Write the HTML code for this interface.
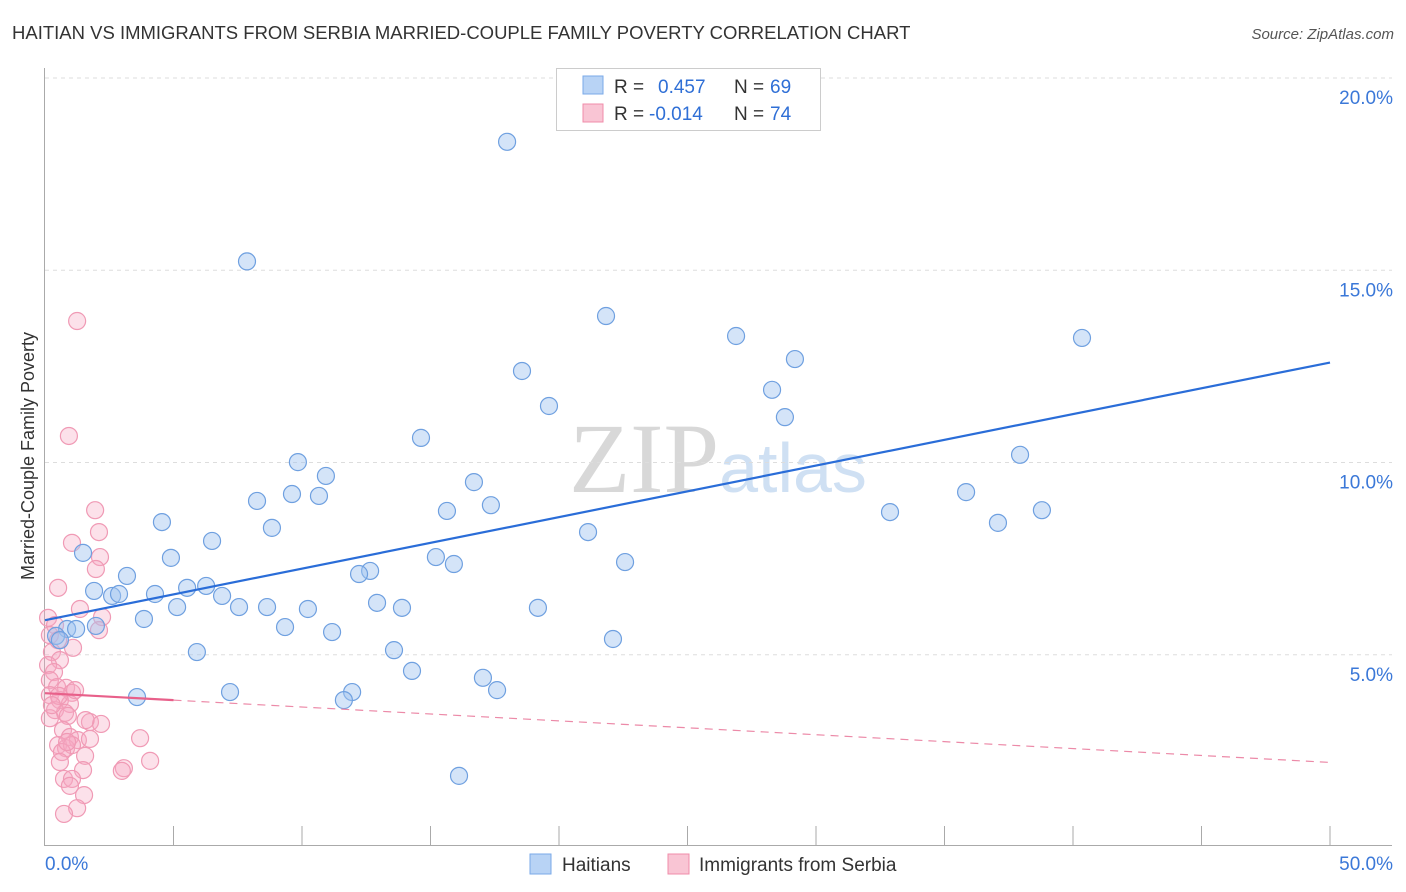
<!DOCTYPE html>
<html><head><meta charset="utf-8"><style>
body{margin:0;background:#fff;font-family:"Liberation Sans",sans-serif;}
svg{display:block}
</style></head><body>
<svg width="1406" height="892" xmlns="http://www.w3.org/2000/svg">
<text x="12" y="39" font-size="18.5" fill="#333">HAITIAN VS IMMIGRANTS FROM SERBIA MARRIED-COUPLE FAMILY POVERTY CORRELATION CHART</text>
<text x="1394" y="39" font-size="15" fill="#555" font-style="italic" text-anchor="end">Source: ZipAtlas.com</text>
<text x="34" y="456" font-size="18" fill="#333" text-anchor="middle" transform="rotate(-90 34 456)">Married-Couple Family Poverty</text>
<text x="718" y="492" font-size="100" fill="#ddd" text-anchor="middle" font-family="Liberation Serif,serif"><tspan fill="#d8d8d8">ZIP</tspan><tspan fill="#cfe0f3" font-family="Liberation Sans,sans-serif" font-size="70">atlas</tspan></text>
<g id="grid"></g>
<g id="axes"></g>
<g id="pts"></g>
<g id="lines"></g>
<g>
<rect x="556.5" y="68.5" width="264" height="62" fill="#fff" stroke="#ccc"/>
<rect x="583" y="76" width="20" height="18" fill="#b8d3f5" stroke="#7aaae8"/>
<rect x="583" y="104" width="20" height="18" fill="#f9c5d4" stroke="#f08caa"/>
<text x="614" y="93" font-size="19" fill="#333">R = <tspan x="658" fill="#2f6fd6">0.457</tspan><tspan x="734">N = </tspan><tspan x="770" fill="#2f6fd6">69</tspan></text>
<text x="614" y="120" font-size="19" fill="#333">R = <tspan x="649" fill="#2f6fd6">-0.014</tspan><tspan x="734">N = </tspan><tspan x="770" fill="#2f6fd6">74</tspan></text>
</g>
<g>
<rect x="530" y="854" width="21" height="20" fill="#b8d3f5" stroke="#7aaae8"/>
<text x="562" y="871" font-size="19" fill="#333">Haitians</text>
<rect x="668" y="854" width="21" height="20" fill="#f9c5d4" stroke="#f08caa"/>
<text x="699" y="871" font-size="19" fill="#333">Immigrants from Serbia</text>
</g>
</svg>
<script>
const blueX=[17.98,7.86,21.83,26.89,29.18,40.35,18.56,28.29,19.61,28.79,14.63,9.84,37.94,10.93,16.69,9.61,8.25,10.66,35.84,17.35,15.64,32.88,38.79,37.08,4.55,8.83,21.13,6.50,1.48,4.90,15.21,15.91,22.57,12.65,12.22,3.19,5.53,6.27,1.91,2.61,2.88,4.28,6.89,5.14,7.55,8.64,10.23,12.92,13.89,19.18,3.85,9.34,11.17,22.10,0.86,1.21,1.98,0.43,0.58,5.91,13.58,14.28,17.04,17.59,7.20,11.95,11.63,3.58,16.11];
const blueY=[18.34,15.23,13.81,13.29,12.69,13.24,12.38,11.89,11.47,11.18,10.64,10.01,10.20,9.65,9.49,9.18,9.00,9.13,9.23,8.89,8.74,8.71,8.76,8.43,8.45,8.30,8.19,7.96,7.65,7.52,7.54,7.36,7.41,7.18,7.10,7.05,6.74,6.79,6.66,6.53,6.58,6.58,6.53,6.24,6.24,6.24,6.19,6.35,6.22,6.22,5.93,5.72,5.59,5.41,5.67,5.67,5.75,5.49,5.38,5.07,5.12,4.58,4.40,4.08,4.03,4.03,3.82,3.90,1.85];
const pinkX=[1.25,0.93,1.95,2.10,1.05,2.14,1.98,0.51,1.36,2.22,2.10,0.12,0.39,0.19,0.51,1.09,0.27,0.58,0.12,0.35,0.19,0.47,0.82,1.05,0.19,0.58,0.97,0.39,0.78,0.19,0.89,1.75,2.18,1.58,0.70,0.97,1.28,1.75,3.70,0.51,0.82,1.05,0.66,1.56,0.58,4.09,3.07,2.99,1.48,0.74,1.05,0.97,1.52,1.25,0.74,0.54,0.27,1.17,0.86];
const pinkY=[13.68,10.69,8.76,8.19,7.91,7.54,7.23,6.74,6.19,5.98,5.64,5.96,5.77,5.51,5.38,5.18,5.07,4.86,4.73,4.55,4.34,4.16,4.14,4.01,3.95,3.82,3.72,3.56,3.49,3.35,3.41,3.25,3.20,3.30,3.04,2.86,2.78,2.81,2.83,2.65,2.57,2.65,2.47,2.37,2.21,2.24,2.05,1.98,2.00,1.77,1.77,1.59,1.35,1.01,0.86,3.93,3.69,4.08,2.73];
const yTicks=[5,10,15,20];
const xTickLabels=["0.0%","50.0%"];
const blueTrend=[5.9,12.6];
const pinkTrend=[4.0,2.2];
const pinkSolidEnd=5;
const NS="http://www.w3.org/2000/svg";
const X0=45,X1=1330,Y0=847,PY=38.45;
const sx=v=>X0+(v/50)*(X1-X0);
const sy=v=>Y0-v*PY;
function mk(t,a,p){const e=document.createElementNS(NS,t);for(const k in a)e.setAttribute(k,a[k]);p.appendChild(e);return e;}
const grid=document.getElementById('grid');
yTicks.forEach(t=>{
 const l=mk('line',{x1:45,x2:1392,y1:sy(t),y2:sy(t),stroke:'#ddd','stroke-dasharray':'4,4'},grid);
 
 
 const tx=mk('text',{x:1393,y:sy(t)+26,'font-size':19,fill:'#3b78d8','text-anchor':'end'},grid);
 tx.textContent=t.toFixed(1)+'%';
 
 
});
const ax=document.getElementById('axes');
mk('line',{x1:44.5,x2:44.5,y1:68,y2:845,stroke:'#aaa'},ax);
mk('line',{x1:44,x2:1392,y1:845.5,y2:845.5,stroke:'#aaa'},ax);
for(let i=1;i<=10;i++){const x=sx(i*5);mk('line',{x1:x,x2:x,y1:826,y2:845,stroke:'#aaa'},ax);}
const t0=mk('text',{x:45,y:870,'font-size':19,fill:'#3b78d8'},ax);t0.textContent=xTickLabels[0];


const t1=mk('text',{x:1393,y:870,'font-size':19,fill:'#3b78d8','text-anchor':'end'},ax);t1.textContent=xTickLabels[1];


const pts=document.getElementById('pts');
pinkX.forEach((v,i)=>{const c=mk('circle',{cx:sx(v),cy:sy(pinkY[i]),r:8.5,fill:'rgba(246,170,195,0.35)',stroke:'#f09ab5','stroke-width':1.2},pts);
 
 });
blueX.forEach((v,i)=>{const c=mk('circle',{cx:sx(v),cy:sy(blueY[i]),r:8.5,fill:'rgba(160,196,240,0.45)',stroke:'#6fa0e0','stroke-width':1.2},pts);
 
 });
const ln=document.getElementById('lines');
const bl=mk('line',{x1:sx(0),y1:sy(blueTrend[0]),x2:sx(50),y2:sy(blueTrend[1]),stroke:'#2a6dd8','stroke-width':2.2},ln);


const pAt=v=>pinkTrend[0]+(pinkTrend[1]-pinkTrend[0])*v/50;
const ps=mk('line',{x1:sx(0),y1:sy(pinkTrend[0]),x2:sx(pinkSolidEnd),y2:sy(pAt(pinkSolidEnd)),stroke:'#e8608a','stroke-width':2.2},ln);


const pd=mk('line',{x1:sx(pinkSolidEnd),y1:sy(pAt(pinkSolidEnd)),x2:sx(50),y2:sy(pinkTrend[1]),stroke:'#ec8aa8','stroke-width':1.2,'stroke-dasharray':'8,6'},ln);


</script>
</body></html>
